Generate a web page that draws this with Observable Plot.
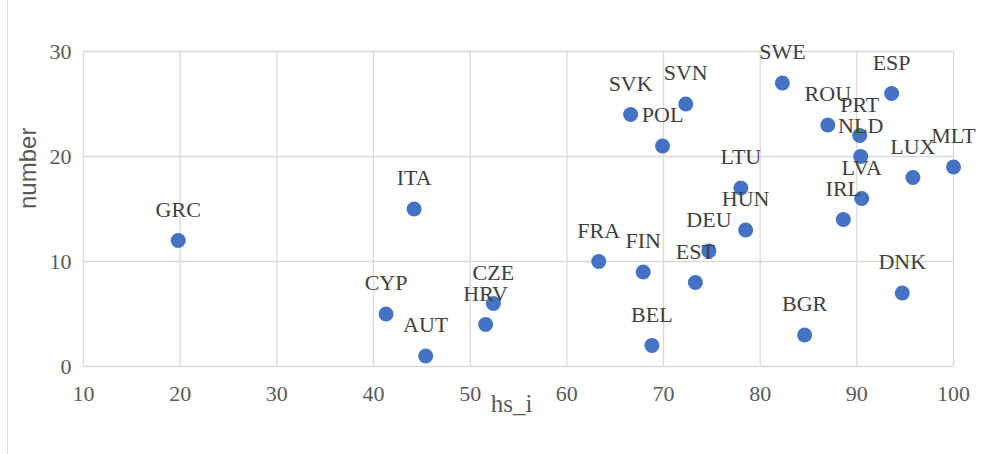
<!DOCTYPE html>
<html>
<head>
<meta charset="utf-8">
<script src="https://cdn.jsdelivr.net/npm/d3@7"></script>
<script src="https://cdn.jsdelivr.net/npm/@observablehq/plot@0.6"></script>
<style>
  html, body { margin: 0; padding: 0; background: #fff; font-family: "Liberation Serif", serif; }
  #chart { width: 981px; height: 454px; position: relative; }
  #chart::before { content: ""; position: absolute; left: 7px; top: 0; bottom: 0; border-left: 1px solid #d9d9d9; }
</style>
</head>
<body>
<div id="chart"></div>
<script>
const countries = ["GRC","ITA","CYP","AUT","HRV","CZE","FRA","FIN","BEL","SVK","POL","SVN","EST","DEU","LTU","HUN","SWE","BGR","ROU","IRL","PRT","NLD","LVA","ESP","DNK","LUX","MLT"];
const hs_i = [19.8,44.2,41.3,45.4,51.6,52.4,63.3,67.9,68.8,66.6,69.9,72.3,73.3,74.7,78.0,78.5,82.3,84.6,87.0,88.6,90.3,90.4,90.5,93.6,94.7,95.8,100];
const number = [12,15,5,1,4,6,10,9,2,24,21,25,8,11,17,13,27,3,23,14,22,20,16,26,7,18,19];
const xTicks = [10,20,30,40,50,60,70,80,90,100];
const yTicks = [0,10,20,30];

const data = countries.map((c, i) => ({country: c, x: hs_i[i], y: number[i]}));

const chart = Plot.plot({
  width: 981,
  height: 454,
  marginLeft: 83,
  marginRight: 28,
  marginTop: 51,
  marginBottom: 88,
  style: {fontFamily: "Liberation Serif", fontSize: "22px"},
  x: {domain: [10, 100]},
  y: {domain: [0, 30]},
  marks: [
    Plot.gridX(xTicks, {stroke: "#d9d9d9", strokeOpacity: 1, strokeWidth: 1.3}),
    Plot.gridY(yTicks, {stroke: "#d9d9d9", strokeOpacity: 1, strokeWidth: 1.3}),
    Plot.axisX(xTicks, {tickSize: 0, tickPadding: 19, fill: "#595959", label: null, fontSize: 22}),
    Plot.axisY(yTicks, {tickSize: 0, tickPadding: 12, fill: "#595959", label: null, fontSize: 22}),
    Plot.text(["number"], {frameAnchor: "left", dx: -55, rotate: -90, fill: "#595959", fontSize: 24, className: "ylab"}),
    Plot.text(["hs_i"], {frameAnchor: "bottom", dx: -7, dy: 45, fill: "#595959", fontSize: 25}),
    Plot.dot(data, {x: "x", y: "y", r: 7.5, fill: "#4472C4", stroke: "none"}),
    Plot.text(data, {x: "x", y: "y", text: "country", dy: -31, fill: "#404040", fontSize: 22})
  ]
});
d3.select(chart).style("font-family", "Liberation Serif", "important");
d3.select(chart).selectAll("g, text").style("font-family", "Liberation Serif", "important");
d3.select(chart).selectAll(".ylab, .ylab text").style("font-family", "Liberation Sans", "important");
document.getElementById("chart").appendChild(chart);
</script>
</body>
</html>
